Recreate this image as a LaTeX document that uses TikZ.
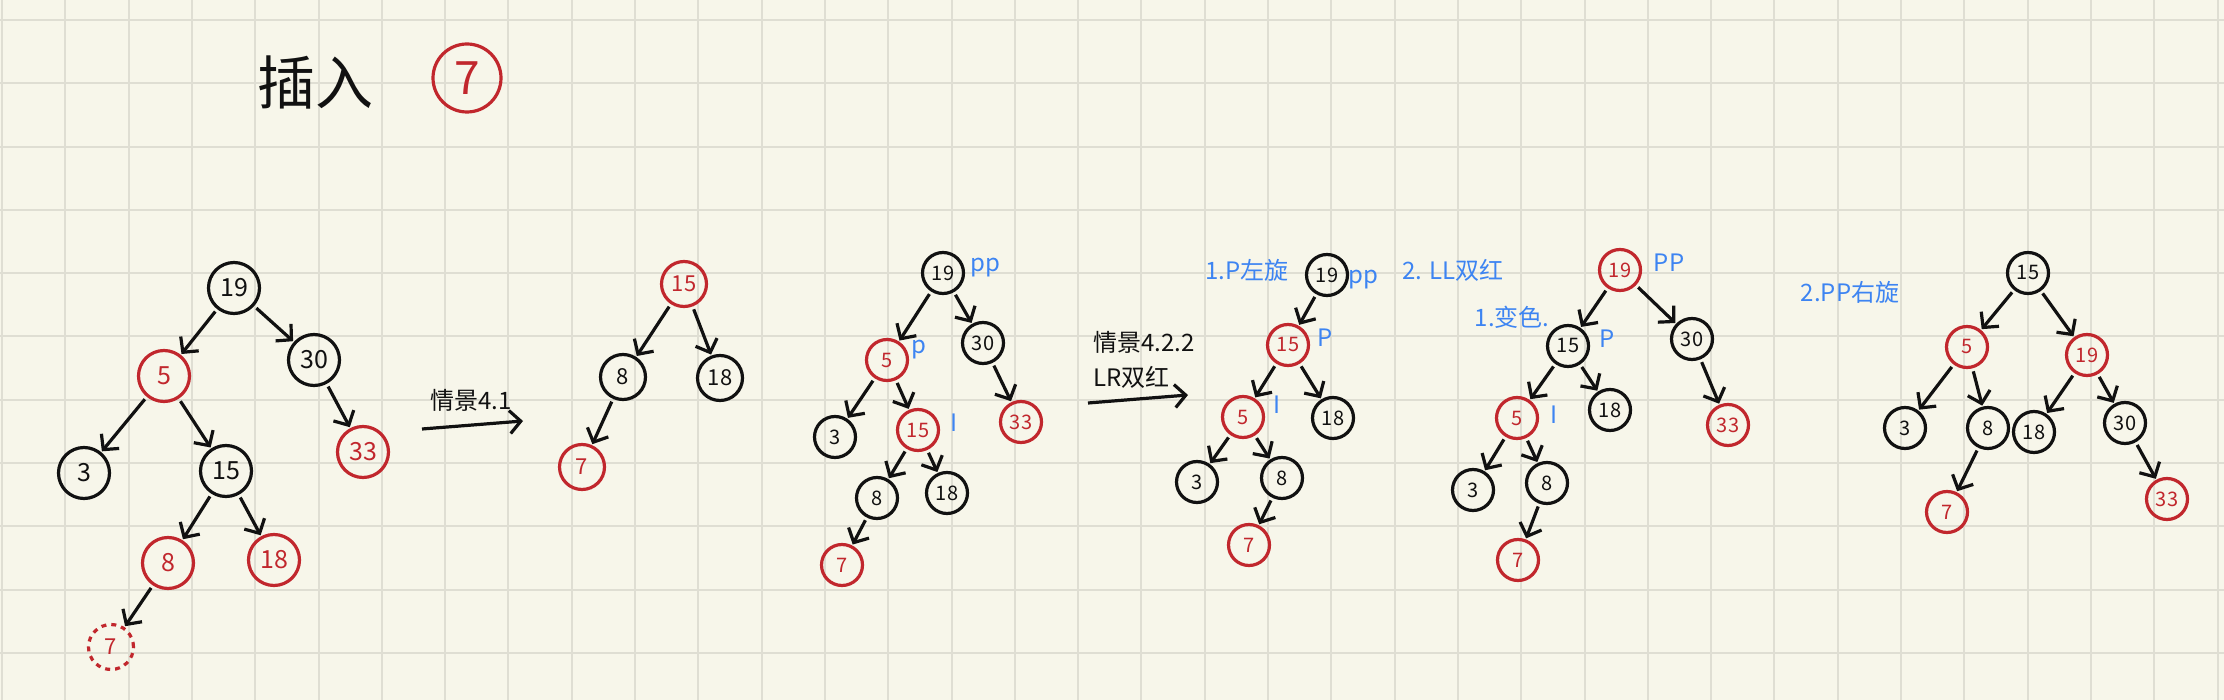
\documentclass[tikz,border=0pt]{standalone}
\usepackage{fontspec}
\newfontfamily\cjk{Noto Sans CJK SC}
\usetikzlibrary{arrows.meta,positioning}

\definecolor{paper}{HTML}{F7F6EA}
\definecolor{gridline}{HTML}{DFDED3}
\definecolor{pen}{HTML}{111111}
\definecolor{redpen}{HTML}{C1272D}
\definecolor{bluepen}{HTML}{3D84F2}

\tikzset{
  bnode/.style={circle, draw=pen, text=pen, line width=3.2pt, minimum size=41pt,
    inner sep=0pt, font=\cjk\fontsize{20}{20}\selectfont},
  rnode/.style={bnode, draw=redpen, text=redpen},
  big/.style={minimum size=51pt, font=\cjk\fontsize{25}{25}\selectfont},
  mid/.style={minimum size=45pt, font=\cjk\fontsize{22}{22}\selectfont},
  edge/.style={draw=pen, line width=3.2pt, -{Straight Barb[length=11pt,width=23pt]},
    shorten <=3pt, shorten >=1pt},
  tag/.style={text=bluepen, inner sep=0pt, font=\cjk\fontsize{24}{24}\selectfont},
  note/.style={text=pen, inner sep=0pt, font=\cjk\fontsize{24}{24}\selectfont},
}

\begin{document}
\begin{tikzpicture}[x=1pt, y=-1pt]
  \useasboundingbox (0,0) rectangle (2224,700);
  % paper
  \fill[paper] (0,0) rectangle (2224,700);
  \foreach \i in {0,...,35}
    \draw[gridline, line width=2pt] ({2+63.3*\i},0) -- ++(0,700);
  \foreach \j in {0,...,10}
    \draw[gridline, line width=2pt] (0,{20+63.3*\j}) -- ++(2224,0);

  % title
  \node[note, font=\cjk\fontsize{58}{58}\selectfont] (title) at (315,82) {插入};
  \node[rnode, minimum size=68pt, font=\cjk\fontsize{46}{46}\selectfont] (new7) at (467,78) {7};

  % tree 1
  \node[bnode, big] (a19) at (234,288) {19};
  \node[bnode, big] (a30) at (314,360) {30};
  \node[rnode, big] (a5) at (164,376) {5};
  \node[rnode, big] (a33) at (363,452) {33};
  \node[bnode, big] (a3) at (84,473) {3};
  \node[bnode, big] (a15) at (226,471) {15};
  \node[rnode, big] (a8) at (168,563) {8};
  \node[rnode, big] (a18) at (274,560) {18};
  \node[rnode, mid, dash pattern=on 5pt off 5pt] (a7) at (111,647) {7};
  \foreach \p/\c in {a19/a5, a19/a30, a30/a33, a5/a3, a5/a15, a15/a8, a15/a18, a8/a7}
    \draw[edge] (\p) -- (\c);

  % case 4.1
  \coordinate (s1a) at (422,429);
  \coordinate (s1b) at (523,421);
  \draw[edge, shorten <=0pt, shorten >=0pt] (s1a) -- (s1b);
  \node[note] (s1) at (471,400) {情景4.1};

  % tree 2
  \node[rnode, mid] (b15) at (684,284) {15};
  \node[bnode, mid] (b8) at (623,377) {8};
  \node[bnode, mid] (b18) at (720,378) {18};
  \node[rnode, mid] (b7) at (582,467) {7};
  \foreach \p/\c in {b15/b8, b15/b18, b8/b7}
    \draw[edge] (\p) -- (\c);

  % tree 3
  \node[bnode] (c19) at (943,273) {19};
  \node[bnode] (c30) at (983,343) {30};
  \node[rnode] (c5) at (887,360) {5};
  \node[rnode] (c33) at (1021,422) {33};
  \node[bnode] (c3) at (835,437) {3};
  \node[rnode] (c15) at (918,430) {15};
  \node[bnode] (c8) at (877,498) {8};
  \node[bnode] (c18) at (947,493) {18};
  \node[rnode] (c7) at (842,565) {7};
  \foreach \p/\c in {c19/c5, c19/c30, c30/c33, c5/c3, c5/c15, c15/c8, c15/c18, c8/c7}
    \draw[edge] (\p) -- (\c);
  \node[tag] (c19t) at (985,268) {pp};
  \node[tag] (c5t) at (919,350) {p};
  \node[tag] (c15t) at (954,423) {I};

  % case 4.2.2
  \coordinate (s2a) at (1088,403);
  \coordinate (s2b) at (1188,395);
  \draw[edge, shorten <=0pt, shorten >=0pt] (s2a) -- (s2b);
  \node[note, anchor=west] (s2) at (1093,342) {情景4.2.2};
  \node[note, anchor=west] (s2l) at (1093,377) {LR双红};

  % tree 4
  \node[bnode] (d19) at (1327,275) {19};
  \node[rnode] (d15) at (1288,345) {15};
  \node[bnode] (d18) at (1333,418) {18};
  \node[rnode] (d5) at (1243,417) {5};
  \node[bnode] (d3) at (1197,482) {3};
  \node[bnode] (d8) at (1282,478) {8};
  \node[rnode] (d7) at (1249,545) {7};
  \foreach \p/\c in {d19/d15, d15/d5, d15/d18, d5/d3, d5/d8, d8/d7}
    \draw[edge] (\p) -- (\c);
  \node[tag] (d1) at (1247,270) {1.P左旋};
  \node[tag] (d19t) at (1363,280) {pp};
  \node[tag] (d2) at (1453,270) {2. LL双红};
  \node[tag] (d15t) at (1325,338) {P};
  \node[tag] (d5t) at (1277,405) {I};

  % tree 5
  \node[rnode] (e19) at (1620,270) {19};
  \node[bnode] (e15) at (1568,346) {15};
  \node[bnode] (e30) at (1692,339) {30};
  \node[bnode] (e18) at (1610,410) {18};
  \node[rnode] (e33) at (1728,425) {33};
  \node[rnode] (e5) at (1517,418) {5};
  \node[bnode] (e3) at (1473,490) {3};
  \node[bnode] (e8) at (1547,483) {8};
  \node[rnode] (e7) at (1518,560) {7};
  \foreach \p/\c in {e19/e15, e19/e30, e30/e33, e15/e5, e15/e18, e5/e3, e5/e8, e8/e7}
    \draw[edge] (\p) -- (\c);
  \node[tag] (e19t) at (1669,263) {PP};
  \node[tag] (e1) at (1512,317) {1.变色.};
  \node[tag] (e15t) at (1607,339) {P};
  \node[tag] (e5t) at (1554,415) {I};

  % tree 6
  \node[tag] (f2) at (1850,292) {2.PP右旋};
  \node[bnode] (f15) at (2028,273) {15};
  \node[rnode] (f5) at (1967,347) {5};
  \node[rnode] (f19) at (2087,355) {19};
  \node[bnode] (f3) at (1905,428) {3};
  \node[bnode] (f8) at (1988,428) {8};
  \node[bnode] (f18) at (2034,432) {18};
  \node[bnode] (f30) at (2125,423) {30};
  \node[rnode] (f7) at (1947,512) {7};
  \node[rnode] (f33) at (2167,499) {33};
  \foreach \p/\c in {f15/f5, f15/f19, f5/f3, f5/f8, f8/f7, f19/f18, f19/f30, f30/f33}
    \draw[edge] (\p) -- (\c);
\end{tikzpicture}
\end{document}
